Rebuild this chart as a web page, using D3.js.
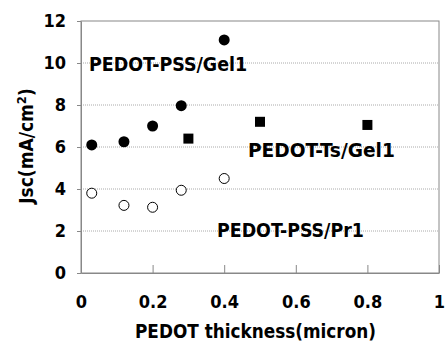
<!DOCTYPE html>
<html>
<head>
<meta charset="utf-8">
<script src="https://cdn.jsdelivr.net/npm/d3@7"></script>
<style>
  body { margin: 0; background: #fff; }
  text { font-family: "DejaVu Sans Condensed", "DejaVu Sans", sans-serif; font-weight: bold; fill: #000; }
</style>
</head>
<body>
<svg id="chart"></svg>
<script>
// thickness (micron) vs Jsc (mA/cm2)
const pssGelX = [0.03, 0.12, 0.2, 0.28, 0.4];
const pssGelY = [6.1, 6.25, 7.0, 7.97, 11.1];
const tsGelX = [0.3, 0.5, 0.8];
const tsGelY = [6.4, 7.2, 7.05];
const pssPrX = [0.03, 0.12, 0.2, 0.28, 0.4];
const pssPrY = [3.8, 3.22, 3.13, 3.94, 4.5];
const xTicks = [0, 0.2, 0.4, 0.6, 0.8, 1];
const yTicks = [0, 2, 4, 6, 8, 10, 12];

const width = 446, height = 342;
const margin = {top: 21, right: 7, bottom: 69, left: 81};
const w = width - margin.left - margin.right;
const h = height - margin.top - margin.bottom;

const svg = d3.select('#chart').attr('width', width).attr('height', height);
const g = svg.append('g').attr('transform', `translate(${margin.left},${margin.top})`);

const x = d3.scaleLinear().domain([0, 1]).range([0, w]);
const y = d3.scaleLinear().domain([0, 12]).range([h, 0]);

// grid
g.selectAll('line.grid').data(yTicks.slice(1, -1)).enter().append('line')
  .attr('x1', 0).attr('x2', w)
  .attr('y1', d => y(d)).attr('y2', d => y(d))
  .attr('stroke', '#aaa').attr('stroke-width', 1).attr('stroke-dasharray', '1,1');

// frame
g.append('rect').attr('width', w).attr('height', h)
  .attr('fill', 'none').attr('stroke', '#888').attr('stroke-width', 1);

const xAxis = g.append('g').attr('transform', `translate(0,${h})`)
  .call(d3.axisBottom(x).tickValues(xTicks).tickFormat(d3.format('')).tickSizeInner(-8).tickSizeOuter(0).tickPadding(22));
xAxis.select('.domain').attr('stroke', '#888');
xAxis.selectAll('.tick line').attr('stroke', '#888');
xAxis.selectAll('text').style('font-size', '18px');

const yAxis = g.append('g')
  .call(d3.axisLeft(y).tickValues(yTicks).tickSizeInner(4).tickSizeOuter(0).tickPadding(11));
yAxis.select('.domain').attr('stroke', '#888');
yAxis.selectAll('.tick line').attr('stroke', '#888');
yAxis.selectAll('text').style('font-size', '18px');

// points
g.selectAll('circle.pssgel').data(pssGelX).enter().append('circle')
  .attr('cx', d => x(d)).attr('cy', (d, i) => y(pssGelY[i])).attr('r', 5.5)
  .attr('fill', '#000');
g.selectAll('circle.psspr').data(pssPrX).enter().append('circle')
  .attr('cx', d => x(d)).attr('cy', (d, i) => y(pssPrY[i])).attr('r', 5)
  .attr('fill', '#fff').attr('stroke', '#000').attr('stroke-width', 1);
g.selectAll('rect.tsgel').data(tsGelX).enter().append('rect')
  .attr('x', d => x(d) - 5).attr('y', (d, i) => y(tsGelY[i]) - 5)
  .attr('width', 10).attr('height', 10).attr('fill', '#000');

// series labels
const labels = [
  {text: 'PEDOT-PSS/Gel1', x: 89, y: 71},
  {text: 'PEDOT-Ts/Gel1', x: 248, y: 157},
  {text: 'PEDOT-PSS/Pr1', x: 217, y: 237}
];
svg.selectAll('text.lbl').data(labels).enter().append('text')
  .attr('x', d => d.x).attr('y', d => d.y)
  .attr('textLength', d => d.text.length * 11.3).attr('lengthAdjust', 'spacingAndGlyphs')
  .style('font-size', '19px').text(d => d.text);

// axis titles
svg.append('text').attr('x', 255.5).attr('y', 338)
  .attr('text-anchor', 'middle').style('font-size', '19px')
  .attr('textLength', 241).attr('lengthAdjust', 'spacingAndGlyphs')
  .text('PEDOT thickness(micron)');

const yt = svg.append('text').attr('transform', `translate(33,146) rotate(-90)`)
  .attr('text-anchor', 'middle').style('font-size', '19px');
yt.append('tspan').text('Jsc(mA/cm');
yt.append('tspan').attr('dy', -7).style('font-size', '13px').text('2');
yt.append('tspan').attr('dy', 7).text(')');
</script>
</body>
</html>
